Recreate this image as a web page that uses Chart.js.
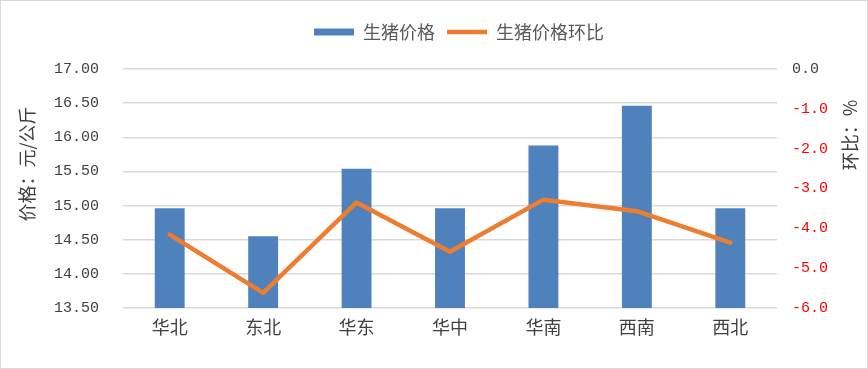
<!DOCTYPE html>
<html>
<head>
<meta charset="utf-8">
<script src="https://cdn.jsdelivr.net/npm/chart.js@4.4.1/dist/chart.umd.min.js"></script>
<style>
  html, body { margin: 0; padding: 0; background: #fff; }
  #wrap { width: 866px; height: 367px; border: 1px solid #d9d9d9; }
</style>
</head>
<body>
<div id="wrap"><canvas id="chart" width="866" height="367"></canvas></div>
<script>
// regions, price (yuan/kg) and month-on-month change (%)
const regions = ['华北', '东北', '华东', '华中', '华南', '西南', '西北'];
const prices = [14.96, 14.55, 15.54, 14.96, 15.88, 16.46, 14.96];
const changes = [-4.16, -5.62, -3.35, -4.59, -3.28, -3.57, -4.36];
const priceTicks = { min: 13.5, max: 17, step: 0.5 };
const changeTicks = { min: -6, max: 0, step: 1 };

const tickFont = { family: 'Liberation Mono', size: 15 };
const cjkFont = "'Noto Sans CJK SC', sans-serif";

// both axis titles read bottom-to-top, drawn by hand
function drawTitle(c, text, x, y) {
  c.save();
  c.translate(x, y);
  c.rotate(-Math.PI / 2);
  c.font = '18px ' + cjkFont;
  c.fillStyle = '#404040';
  c.textAlign = 'center';
  c.textBaseline = 'middle';
  c.fillText(text, 0, 0);
  c.restore();
}

const axisTitles = {
  id: 'axisTitles',
  afterInit(chart) {
    // extra room under the legend
    const legend = chart.legend;
    const fit = legend.fit;
    legend.fit = function () {
      fit.call(legend);
      legend.height += 18;
    };
  },
  afterLayout(chart) {
    // legend sits a bit right of centre
    chart.legend.left += 25;
    chart.legend.right += 25;
  },
  afterDraw(chart) {
    drawTitle(chart.ctx, '价格：元/公斤', 26, 163);
    drawTitle(chart.ctx, '环比：%', 849, 134);
  }
};

let chart;
document.addEventListener('DOMContentLoaded', function () {
  const ctx = document.getElementById('chart');
  chart = new Chart(ctx, {
    type: 'bar',
    data: {
      labels: regions,
      datasets: [
        {
          label: '生猪价格',
          data: prices,
          backgroundColor: '#4F81BD',
          borderWidth: 0,
          barPercentage: 0.32,
          categoryPercentage: 1,
          pointStyle: 'rect',
          yAxisID: 'y',
          order: 1
        },
        {
          type: 'line',
          label: '生猪价格环比',
          data: changes,
          borderColor: '#ED7D31',
          backgroundColor: '#ED7D31',
          borderWidth: 4.5,
          borderCapStyle: 'round',
          borderJoinStyle: 'round',
          pointRadius: 0,
          pointStyle: 'line',
          tension: 0,
          yAxisID: 'y1',
          order: 0
        }
      ]
    },
    options: {
      responsive: false,
      animation: false,
      devicePixelRatio: 1,
      layout: { padding: { top: 10, bottom: 0, left: 0, right: 0 } },
      plugins: {
        legend: {
          display: true,
          position: 'top',
          labels: {
            usePointStyle: true,
            pointStyleWidth: 40,
            boxHeight: 7,
            padding: 12,
            color: '#595959',
            font: { family: cjkFont, size: 18 },
            sort: (a, b) => a.datasetIndex - b.datasetIndex
          }
        },
        title: { display: false },
        tooltip: { enabled: false }
      },
      scales: {
        x: {
          grid: { display: false },
          border: { display: false },
          ticks: { color: '#404040', font: { family: cjkFont, size: 18 }, padding: 0 },
          afterFit: s => { s.height = 60; }
        },
        y: {
          position: 'left',
          min: priceTicks.min,
          max: priceTicks.max,
          ticks: {
            stepSize: priceTicks.step,
            color: '#404040',
            font: tickFont,
            padding: 24,
            callback: v => v.toFixed(2)
          },
          grid: { color: '#d9d9d9', lineWidth: 1.5, drawTicks: false },
          border: { display: false },
          afterFit: s => { s.width = 122; }
        },
        y1: {
          position: 'right',
          min: changeTicks.min,
          max: changeTicks.max,
          ticks: {
            stepSize: changeTicks.step,
            color: c => c.tick.value === 0 ? '#404040' : '#FF0000',
            font: tickFont,
            padding: 7,
            callback: v => v.toFixed(1)
          },
          grid: { display: false },
          border: { display: false },
          afterFit: s => { s.width = 90; }
        }
      }
    },
    plugins: [axisTitles]
  });
});
</script>
</body>
</html>
